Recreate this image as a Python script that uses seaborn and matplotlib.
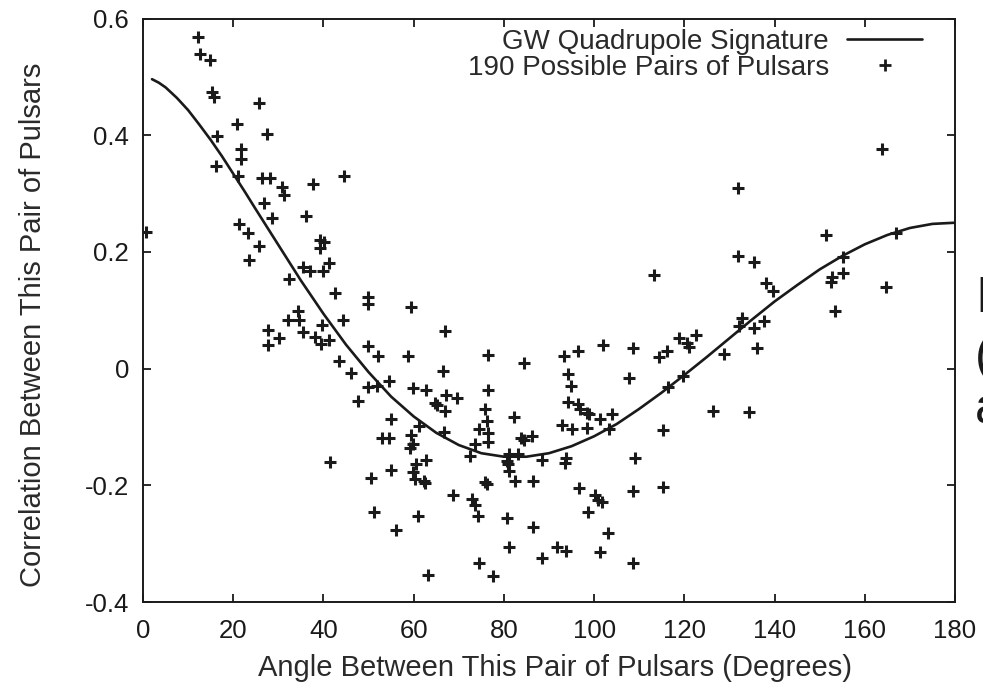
import matplotlib
matplotlib.use("Agg")
import matplotlib.pyplot as plt
import seaborn as sns
import pandas as pd
from matplotlib.lines import Line2D

# ---- theoretical GW quadrupole (Hellings-Downs) curve ----
curve_angle = [2, 3.5, 5, 7.5, 10, 12.5, 15, 17.5, 20, 22.5, 25, 30, 35, 40, 45, 50, 55,
               60, 65, 70, 75, 80, 85, 90, 95, 100, 105, 110, 115, 120, 125, 130, 135,
               140, 145, 150, 155, 160, 165, 170, 175, 180]
curve_corr = [0.496, 0.490, 0.482, 0.464, 0.443, 0.418, 0.392, 0.364, 0.334, 0.304,
              0.273, 0.212, 0.151, 0.094, 0.041, -0.006, -0.048, -0.082, -0.110, -0.131,
              -0.145, -0.151, -0.151, -0.145, -0.133, -0.116, -0.095, -0.069, -0.041,
              -0.011, 0.020, 0.052, 0.084, 0.115, 0.143, 0.170, 0.193, 0.213, 0.229,
              0.241, 0.248, 0.250]

# ---- measured pulsar pairs ----
pair_angle = [12.1, 12.6, 14.9, 15.4, 15.7, 25.8, 20.9, 16.5, 27.5, 21.7,
              21.7, 16.2, 21.0, 26.4, 28.1, 30.8, 31.3, 37.7, 26.9, 28.7,
              36.1, 21.3, 23.3, 25.8, 23.5, 39.2, 40.1, 39.2, 41.2, 35.5,
              37.0, 40.0, 32.4, 42.5, 34.3, 32.2, 34.6, 39.7, 27.8, 30.1,
              35.5, 38.1, 39.4, 41.3, 27.8, 43.4, 44.4, 49.8, 49.8, 59.3,
              66.9, 49.9, 52.0, 58.7, 76.4, 46.1, 66.5, 54.6, 49.8, 51.8,
              59.9, 62.7, 76.4, 67.1, 69.6, 64.7, 65.1, 47.6, 66.9, 75.9,
              76.3, 55.0, 74.5, 61.2, 66.7, 76.5, 76.5, 52.9, 54.6, 59.4,
              59.9, 59.2, 73.7, 82.3, 94.2, 96.5, 96.8, 98.5, 98.9, 101.4,
              104.0, 92.9, 95.0, 98.5, 103.3, 83.9, 84.5, 86.3, 72.5, 81.2,
              83.2, 80.7, 81.0, 88.5, 93.7, 93.5, 109.0, 115.3, 41.4, 62.7,
              60.5, 59.9, 54.9, 50.5, 60.3, 62.3, 62.5, 75.8, 76.2, 81.2,
              82.4, 86.5, 96.7, 100.2, 100.9, 101.7, 108.7, 115.3, 68.8, 73.0,
              73.6, 51.2, 61.0, 74.3, 80.8, 98.7, 56.0, 86.5, 103.0, 81.2,
              91.8, 93.7, 101.4, 88.4, 74.5, 108.7, 63.2, 77.6, 113.2, 118.9,
              102.0, 108.7, 96.5, 93.4, 116.1, 114.4, 84.5, 94.2, 107.8, 94.9,
              116.4, 131.9, 151.4, 131.9, 135.4, 155.1, 138.1, 139.7, 152.8, 152.6,
              155.1, 153.3, 132.7, 132.1, 135.4, 137.7, 122.5, 120.5, 121.1, 128.7,
              136.1, 119.7, 163.9, 166.9, 164.6, 44.5, 126.4, 134.3, 0.7]
pair_corr = [0.568, 0.540, 0.529, 0.474, 0.466, 0.456, 0.420, 0.399, 0.402, 0.376,
             0.360, 0.348, 0.330, 0.327, 0.327, 0.311, 0.297, 0.316, 0.284, 0.258,
             0.261, 0.248, 0.233, 0.210, 0.186, 0.220, 0.217, 0.206, 0.181, 0.174,
             0.167, 0.167, 0.153, 0.129, 0.099, 0.083, 0.083, 0.075, 0.066, 0.052,
             0.062, 0.055, 0.042, 0.049, 0.041, 0.013, 0.084, 0.123, 0.111, 0.106,
             0.064, 0.038, 0.021, 0.021, 0.023, -0.007, -0.004, -0.022, -0.032, -0.029,
             -0.034, -0.037, -0.036, -0.046, -0.051, -0.059, -0.063, -0.056, -0.073, -0.070,
             -0.089, -0.087, -0.103, -0.098, -0.109, -0.111, -0.126, -0.119, -0.119, -0.114,
             -0.129, -0.136, -0.130, -0.083, -0.057, -0.060, -0.069, -0.076, -0.078, -0.086,
             -0.077, -0.096, -0.103, -0.101, -0.103, -0.119, -0.123, -0.116, -0.150, -0.147,
             -0.146, -0.159, -0.163, -0.156, -0.153, -0.162, -0.153, -0.106, -0.160, -0.156,
             -0.164, -0.177, -0.174, -0.188, -0.190, -0.192, -0.196, -0.195, -0.197, -0.176,
             -0.193, -0.193, -0.204, -0.217, -0.226, -0.229, -0.210, -0.203, -0.216, -0.224,
             -0.233, -0.245, -0.253, -0.253, -0.256, -0.246, -0.276, -0.272, -0.281, -0.306,
             -0.306, -0.313, -0.315, -0.325, -0.334, -0.333, -0.353, -0.356, 0.160, 0.053,
             0.041, 0.035, 0.031, 0.021, 0.031, 0.020, 0.010, -0.009, -0.016, -0.030,
             -0.032, 0.309, 0.229, 0.193, 0.183, 0.191, 0.146, 0.133, 0.157, 0.149,
             0.163, 0.098, 0.087, 0.073, 0.070, 0.082, 0.057, 0.044, 0.037, 0.025,
             0.036, -0.013, 0.376, 0.233, 0.140, 0.330, -0.073, -0.075, 0.234]

x_ticks = [0, 20, 40, 60, 80, 100, 120, 140, 160, 180]
y_ticks = [-0.4, -0.2, 0, 0.2, 0.4, 0.6]
y_tick_labels = ["-0.4", "-0.2", "0", "0.2", "0.4", "0.6"]
legend_labels = ["GW Quadrupole Signature", "190 Possible Pairs of Pulsars"]
x_label = "Angle Between This Pair of Pulsars (Degrees)"
y_label = "Correlation Between This Pair of Pulsars"
side_text = ["I", "(", "a"]

sns.set_style("white")
plt.rcParams["font.family"] = ["Liberation Sans", "DejaVu Sans"]
plt.rcParams["axes.unicode_minus"] = False

INK = "#1a1a1a"
W, H = 983, 686
fig = plt.figure(figsize=(W / 100, H / 100), dpi=100)
left, right, top, bottom = 143, 955, 18.5, 602
ax = fig.add_axes([left / W, 1 - bottom / H, (right - left) / W, (bottom - top) / H])

curve_df = pd.DataFrame({"angle": curve_angle, "corr": curve_corr})
pairs_df = pd.DataFrame({"angle": pair_angle, "corr": pair_corr})

sns.lineplot(data=curve_df, x="angle", y="corr", ax=ax, color=INK, linewidth=1.9,
             estimator=None, sort=False, legend=False)
sns.scatterplot(data=pairs_df, x="angle", y="corr", ax=ax, marker="+", s=70,
                color=INK, linewidth=2.2, legend=False, zorder=3)

ax.set_xlim(0, 180)
ax.set_ylim(-0.4, 0.6)
ax.set_xticks(x_ticks)
ax.set_xticklabels([str(t) for t in x_ticks])
ax.set_yticks(y_ticks)
ax.set_yticklabels(y_tick_labels)

for s in ax.spines.values():
    s.set_visible(True)
    s.set_linewidth(1.4)
    s.set_color(INK)

ax.tick_params(axis="both", which="major", direction="in", length=6, width=1.3,
               color=INK, labelsize=18.5, labelcolor=INK,
               top=True, right=True, bottom=True, left=True)
ax.tick_params(axis="x", pad=12)
ax.tick_params(axis="y", pad=10)

ax.set_xlabel(x_label, fontsize=21, color="#2a2a2a")
ax.set_ylabel(y_label, fontsize=21, color="#2a2a2a")
ax.xaxis.set_label_coords((555 - left) / (right - left), (bottom - 668) / (bottom - top))
ax.xaxis.label.set_va("center")
ax.yaxis.set_label_coords((33 - left) / (right - left), (bottom - 325) / (bottom - top))
ax.yaxis.label.set_va("center")

handles = [Line2D([], [], color=INK, linewidth=1.9),
           Line2D([], [], color=INK, marker="+", linestyle="None",
                  markersize=8, markeredgewidth=2.0)]
leg = ax.legend(handles, legend_labels, loc="upper right",
                bbox_to_anchor=((922 - left) / (right - left), (bottom - 29) / (bottom - top)),
                frameon=False, markerfirst=False, fontsize=20, handlelength=2.7,
                handletextpad=0.65, borderpad=0, borderaxespad=0, labelspacing=0.0)
for t in leg.get_texts():
    t.set_color("#2a2a2a")

for txt, yc in zip(side_text, [299, 358, 410]):
    fig.text(975 / W, 1 - yc / H, txt, fontsize=36, color=INK, ha="left", va="center")

fig.savefig("out.png", dpi=100)
